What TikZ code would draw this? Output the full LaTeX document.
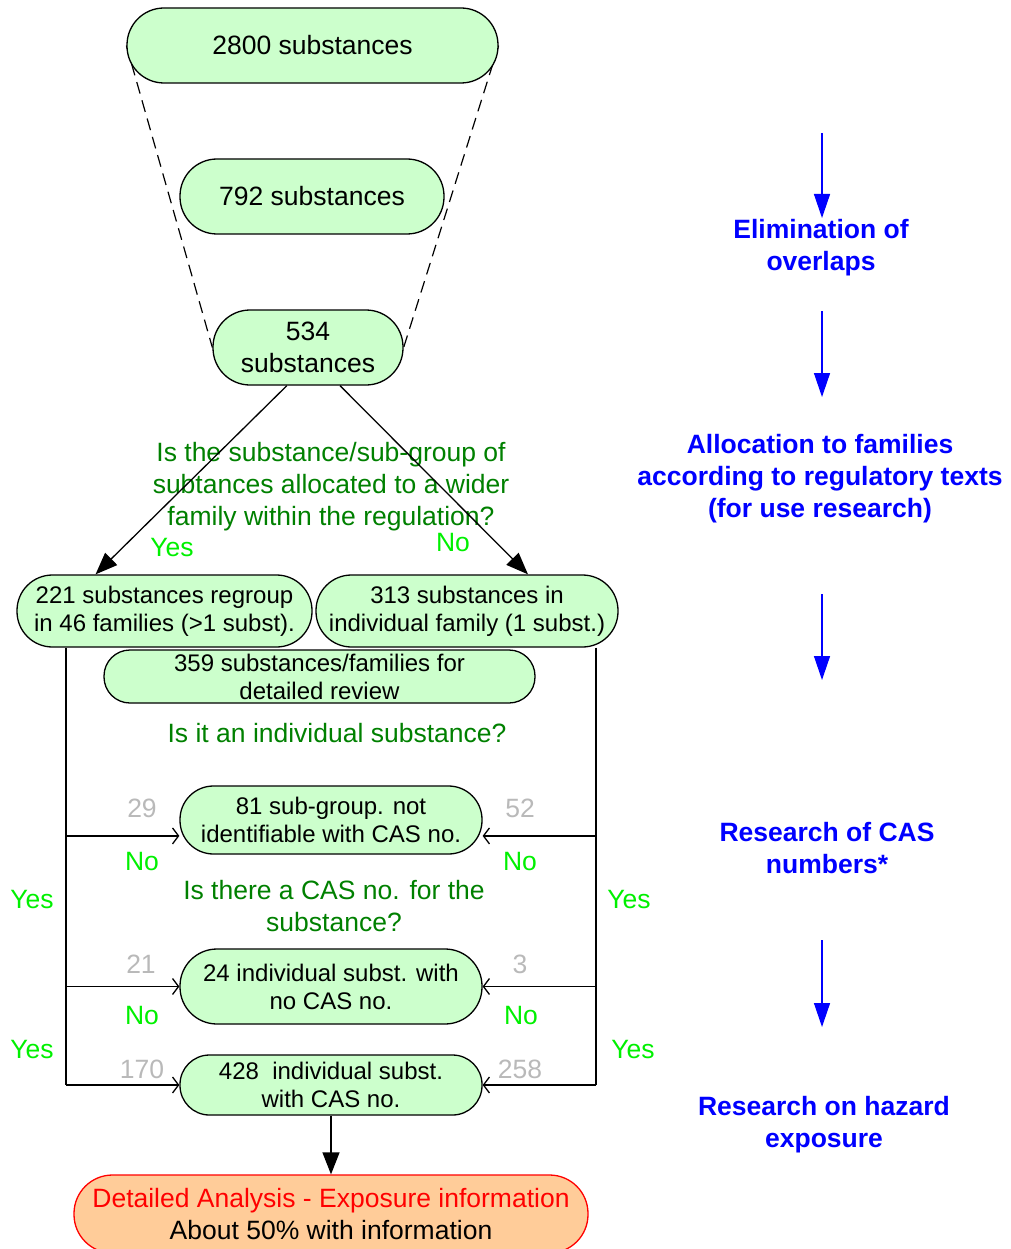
\documentclass[tikz,border=0pt]{standalone}
\usepackage{fontspec}
\setmainfont{Liberation Sans}
\usetikzlibrary{arrows.meta,backgrounds}
\definecolor{boxgreen}{RGB}{204,255,204}
\definecolor{boxorange}{RGB}{255,204,153}
\definecolor{qgreen}{RGB}{0,128,0}
\definecolor{ansgreen}{RGB}{0,240,0}
\definecolor{countgray}{RGB}{185,185,185}
\definecolor{phaseblue}{RGB}{0,0,255}
\newcommand\largetxt{\fontsize{26.5}{32}\selectfont}
\newcommand\smalltxt{\fontsize{24}{28}\selectfont}
\begin{document}
\begin{tikzpicture}[x=1pt,y=-1pt,
  stage/.style={draw, line width=1.3pt, fill=boxgreen, align=center, inner sep=0pt},
  question/.style={text=qgreen, align=center, font=\largetxt},
  answer/.style={text=ansgreen, font=\largetxt},
  count/.style={text=countgray, font=\largetxt},
  phase/.style={text=phaseblue, align=center, font=\largetxt\bfseries},
  flow/.style={line width=1.3pt, -{Triangle[length=22pt,width=17pt]}},
  trunk/.style={line width=1.3pt},
  feed/.style={line width=1.3pt, -{Straight Barb[length=6pt,width=16pt]}},
  phasearrow/.style={phaseblue, line width=1.4pt, -{Triangle[length=24pt,width=16pt]}},
]
\useasboundingbox (0,0) rectangle (1010,1249);
\clip (0,0) rectangle (1010,1249);

% funnel of the first screening steps
\node[stage, minimum width=371pt, minimum height=75pt, rounded corners=37pt, font=\largetxt]
  (s2800) at (312.5,45.5) {2800 substances};
\node[stage, minimum width=264pt, minimum height=75pt, rounded corners=37pt, font=\largetxt]
  (s792) at (312,196.5) {792 substances};
\node[stage, minimum width=190pt, minimum height=75pt, rounded corners=37pt, font=\largetxt]
  (s534) at (308,347.5) {534\\substances};
\begin{scope}[on background layer]
  \draw[line width=1.2pt, dash pattern=on 12pt off 7pt] (s2800.west) -- (s534.west);
  \draw[line width=1.2pt, dash pattern=on 12pt off 7pt] (s2800.east) -- (s534.east);
\end{scope}

% allocation to families
\node[question] (qfamily) at (331,487)
  {Is the substance/sub-group of\\subtances allocated to a wider\\family within the regulation?};
\node[stage, minimum width=295pt, minimum height=72pt, rounded corners=35.5pt, font=\smalltxt]
  (s221) at (164.5,611) {221 substances regroup\\in 46 families (>1 subst).};
\node[stage, minimum width=302pt, minimum height=72pt, rounded corners=35.5pt, font=\smalltxt]
  (s313) at (467,611) {313 substances in\\individual family (1 subst.)};
\draw[flow] (s534.241) -- (s221.152);
\draw[flow] (s534.310) -- (s313.31);
\node[answer] (yfam) at (172,548) {Yes};
\node[answer] (nfam) at (453,543) {No};

\node[stage, minimum width=431pt, minimum height=53pt, rounded corners=26pt, font=\smalltxt]
  (s359) at (319.5,676.5) {359 substances/families for\\detailed review};
\node[question] (qindiv) at (337,733) {Is it an individual substance?};

% CAS number outcomes
\node[stage, minimum width=302pt, minimum height=68pt, rounded corners=33.5pt, font=\smalltxt]
  (s81) at (331,820) {81 sub-group. not\\identifiable with CAS no.};
\node[question] (qcas) at (334,906) {Is there a CAS no. for the\\substance?};
\node[stage, minimum width=302pt, minimum height=75pt, rounded corners=37pt, font=\smalltxt]
  (s24) at (331,986.5) {24 individual subst. with\\no CAS no.};
\node[stage, minimum width=302pt, minimum height=60pt, rounded corners=29.5pt, font=\smalltxt]
  (s428) at (331,1085) {428\ \ individual subst.\\with CAS no.};
\node[draw=red, line width=1.3pt, fill=boxorange, align=center, inner sep=0pt,
  minimum width=514pt, minimum height=78pt, rounded corners=38.5pt, font=\largetxt]
  (final) at (331,1214) {\textcolor{red}{Detailed Analysis - Exposure information}\\About 50\% with information};

% side trunks feeding the outcome boxes
\coordinate (lx) at (66,0);
\coordinate (rx) at (596,0);
\draw[trunk] (lx |- s221.south) -- (lx |- s428.west);
\draw[trunk] (rx |- s313.south) -- (rx |- s428.east);
\draw[feed] (lx |- s81.186) -- (s81.186);
\draw[feed] (rx |- s81.354) -- (s81.354);
\draw[feed] (lx |- s24.west) -- (s24.west);
\draw[feed] (rx |- s24.east) -- (s24.east);
\draw[feed] (lx |- s428.west) -- (s428.west);
\draw[feed] (rx |- s428.east) -- (s428.east);
\draw[flow] (s428.south) -- (final.north);

\node[count] (c29) at (142,808) {29};
\node[count] (c52) at (520,808) {52};
\node[answer] (n81l) at (142,862) {No};
\node[answer] (n81r) at (520,862) {No};
\node[answer] (y1l) at (32,900) {Yes};
\node[answer] (y1r) at (629,900) {Yes};
\node[count] (c21) at (141,964) {21};
\node[count] (c3) at (520,964) {3};
\node[answer] (n24l) at (142,1016) {No};
\node[answer] (n24r) at (521,1016) {No};
\node[answer] (y2l) at (32,1050) {Yes};
\node[answer] (y2r) at (633,1050) {Yes};
\node[count] (c170) at (142,1069) {170};
\node[count] (c258) at (520,1069) {258};

% process phases on the right
\coordinate (a1s) at (822,133); \coordinate (a1e) at (822,218);
\coordinate (a2s) at (822,311); \coordinate (a2e) at (822,397);
\coordinate (a3s) at (822,594); \coordinate (a3e) at (822,680);
\coordinate (a4s) at (822,940); \coordinate (a4e) at (822,1027);
\draw[phasearrow] (a1s) -- (a1e);
\draw[phasearrow] (a2s) -- (a2e);
\draw[phasearrow] (a3s) -- (a3e);
\draw[phasearrow] (a4s) -- (a4e);
\node[phase] (p1) at (821,248) {Elimination of\\overlaps};
\node[phase] (p2) at (820,479) {Allocation to families\\according to regulatory texts\\(for use research)};
\node[phase] (p3) at (827,848) {Research of CAS\\numbers*};
\node[phase] (p4) at (824,1125) {Research on hazard\\exposure};
\end{tikzpicture}
\end{document}
